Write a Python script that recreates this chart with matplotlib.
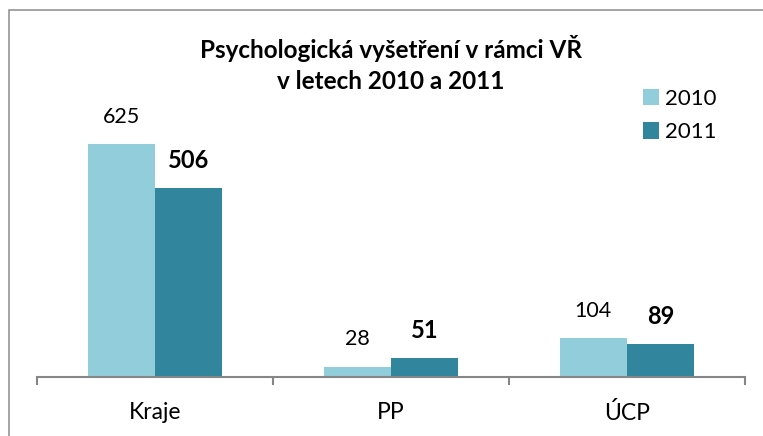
import matplotlib
matplotlib.use('Agg')
import matplotlib.pyplot as plt
import numpy as np
from matplotlib.patches import Rectangle

categories = ['Kraje', 'PP', 'ÚCP']
series_names = ['2010', '2011']
values_2010 = [625, 28, 104]
values_2011 = [506, 51, 89]

color_2010 = '#92CDDC'
color_2011 = '#31859C'

plt.rcParams['font.family'] = ['Lato', 'DejaVu Sans']

fig = plt.figure(figsize=(7.63, 4.36), dpi=100)
W, H = 763, 436

# chart border (only left and top edge are inside the picture)
fig.patches.append(Rectangle((9 / W, -10 / H), 800 / W, 436 / H, transform=fig.transFigure,
                             fill=False, edgecolor='#8c8c8c', linewidth=1.1))

ax = fig.add_axes([37 / W, 59 / H, 708 / W, 261 / H])

x = np.arange(len(categories))
w = 0.286
b1 = ax.bar(x - w / 2, values_2010, w, color=color_2010, label=series_names[0])
b2 = ax.bar(x + w / 2, values_2011, w, color=color_2011, label=series_names[1])

for rect, v in zip(b1, values_2010):
    ax.annotate(str(v), (rect.get_x() + rect.get_width() / 2, v), xytext=(0, 19.5),
                textcoords='offset points', ha='center', va='center', fontsize=15.5)
for rect, v in zip(b2, values_2011):
    ax.annotate(str(v), (rect.get_x() + rect.get_width() / 2, v), xytext=(0, 20),
                textcoords='offset points', ha='center', va='center', fontsize=17,
                fontweight='bold')

ax.set_xlim(-0.5, len(categories) - 0.5)
ax.set_ylim(0, 700)
ax.set_yticks([])
ax.set_xticks(np.arange(len(categories) + 1) - 0.5, minor=False)
ax.set_xticklabels([])
ax.set_xticks(x, minor=True)
ax.set_xticklabels(categories, minor=True, fontsize=16.5)
ax.tick_params(axis='x', which='major', length=6, color='#868686', width=1.5)
ax.tick_params(axis='x', which='minor', length=0, pad=18)
for s in ['top', 'right', 'left']:
    ax.spines[s].set_visible(False)
ax.spines['bottom'].set_color('#868686')
ax.spines['bottom'].set_linewidth(1.5)

fig.text(391 / W, 1 - 64 / H, 'Psychologická vyšetření v rámci VŘ\nv letech 2010 a 2011',
         ha='center', va='center', fontsize=17.5, fontweight='bold', linespacing=1.4)

ax.legend(loc='upper left', bbox_to_anchor=(643 / W, 1 - 89 / H), bbox_transform=fig.transFigure,
          frameon=False, fontsize=16, handlelength=0.7, handleheight=0.75, handletextpad=0.3,
          labelspacing=0.6, borderaxespad=0, borderpad=0)

fig.savefig('out.png', dpi=100)
